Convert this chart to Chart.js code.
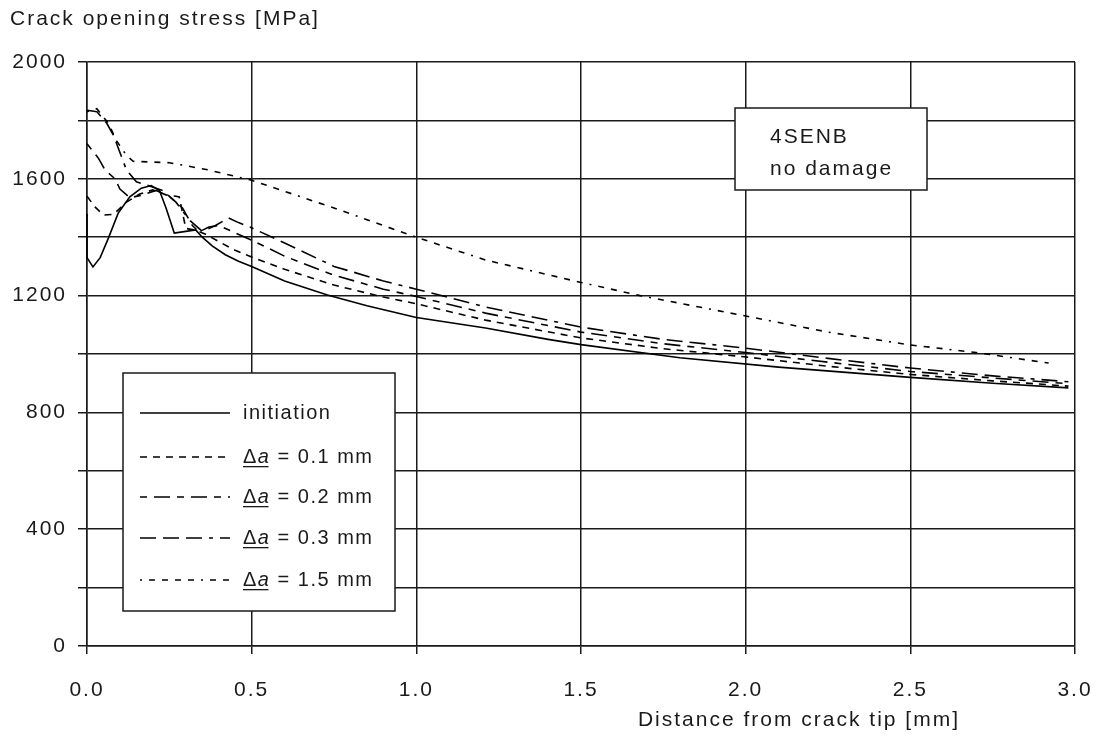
<!DOCTYPE html>
<html>
<head>
<meta charset="utf-8">
<script src="https://cdn.jsdelivr.net/npm/chart.js@4.4.1/dist/chart.umd.min.js"></script>
<style>
  html, body { margin: 0; padding: 0; background: #fff; }
  #wrap { width: 1106px; height: 742px; position: relative; }
</style>
</head>
<body>
<div id="wrap"><canvas id="chart"></canvas></div>
<script>
// distances from crack tip [mm] and stresses [MPa]
const initX = [0, 0, 0.018, 0.04, 0.065, 0.095, 0.13, 0.165, 0.195, 0.22, 0.24, 0.265, 0.3, 0.33, 0.35, 0.38, 0.42, 0.46, 0.5, 0.6, 0.73, 0.85, 1.0, 1.21, 1.4, 1.5, 1.8, 2.1, 2.5, 2.75, 2.98]
const initY = [1480, 1330, 1298, 1330, 1397, 1483, 1538, 1568, 1577, 1560, 1500, 1414, 1420, 1425, 1400, 1370, 1340, 1318, 1300, 1250, 1202, 1165, 1125, 1089, 1050, 1032, 987, 955, 920, 900, 884]

const a01X = [0, 0.025, 0.05, 0.08, 0.12, 0.16, 0.2, 0.24, 0.27, 0.28, 0.3, 0.33, 0.36, 0.4, 0.45, 0.5, 0.6, 0.75, 0.9, 1.0, 1.21, 1.5, 1.75, 2.0, 2.25, 2.5, 2.75, 2.98]
const a01Y = [1540, 1503, 1476, 1478, 1520, 1548, 1562, 1545, 1540, 1538, 1430, 1424, 1410, 1385, 1355, 1332, 1290, 1236, 1195, 1172, 1116, 1055, 1018, 990, 958, 930, 908, 890]

const a02X = [0, 0.035, 0.055, 0.085, 0.1, 0.13, 0.17, 0.21, 0.25, 0.29, 0.32, 0.34, 0.37, 0.4, 0.45, 0.5, 0.6, 0.75, 0.9, 1.0, 1.21, 1.5, 1.75, 2.0, 2.25, 2.5, 2.75, 2.98]
const a02Y = [1720, 1670, 1630, 1600, 1565, 1535, 1545, 1560, 1540, 1500, 1440, 1418, 1435, 1440, 1415, 1390, 1335, 1270, 1222, 1197, 1140, 1075, 1035, 1005, 972, 940, 918, 898]

const a03X = [0, 0.03, 0.06, 0.08, 0.1, 0.12, 0.15, 0.19, 0.23, 0.27, 0.31, 0.35, 0.39, 0.43, 0.46, 0.5, 0.6, 0.75, 0.9, 1.0, 1.21, 1.5, 1.75, 2.0, 2.25, 2.5, 2.75, 2.98]
const a03Y = [1835, 1830, 1790, 1750, 1690, 1630, 1590, 1575, 1560, 1520, 1460, 1420, 1440, 1466, 1450, 1432, 1380, 1300, 1250, 1222, 1161, 1092, 1050, 1020, 985, 952, 925, 905]

const a15X = [0, 0.03, 0.065, 0.09, 0.12, 0.14, 0.25, 0.29, 0.37, 0.47, 0.5, 0.75, 1.0, 1.21, 1.5, 1.68, 2.0, 2.25, 2.5, 2.7, 2.92]
const a15Y = [1830, 1840, 1790, 1730, 1680, 1660, 1655, 1647, 1630, 1603, 1595, 1500, 1400, 1322, 1245, 1200, 1130, 1075, 1031, 1005, 969]

const seriesNames = ['initiation', 'Δa = 0.1 mm', 'Δa = 0.2 mm', 'Δa = 0.3 mm', 'Δa = 1.5 mm']
const seriesDash = [[], [7, 6], [7, 7, 16, 7], [16, 7, 16, 7, 16, 7, 4, 7], [2, 7, 6, 7, 6, 7, 6, 7, 6, 7]]

const xTicks = [0, 0.5, 1.0, 1.5, 2.0, 2.5, 3.0]
const yMin = 0, yMax = 2000, yStep = 200

const FONT = 'Liberation Sans, Arial, sans-serif'
const INK = '#1a1a1a'

function pairs(xs, ys) {
  return xs.map((x, i) => ({ x: x, y: ys[i] }))
}

const allSeries = [[initX, initY], [a01X, a01Y], [a02X, a02Y], [a03X, a03Y], [a15X, a15Y]]

const datasets = allSeries.map((s, i) => ({
  label: seriesNames[i],
  data: pairs(s[0], s[1]),
  borderColor: '#000',
  borderWidth: 1.6,
  borderDash: seriesDash[i],
  pointRadius: 0,
  tension: 0,
  fill: false,
  clip: false,
}))

// letter spacing so the text looks like the old bitmap font
const spacing = {
  id: 'spacing',
  beforeDraw(chart) {
    chart.ctx.letterSpacing = '2px'
  }
}

function drawDeltaLabel(ctx, text, x, y) {
  // "Δa" underlined with italic a, rest normal
  if (text.indexOf('Δa') !== 0) {
    ctx.fillText(text, x, y)
    return
  }
  ctx.font = '20px ' + FONT
  ctx.fillText('Δ', x, y)
  let w1 = ctx.measureText('Δ').width
  ctx.font = 'italic 20px ' + FONT
  ctx.fillText('a', x + w1, y)
  let w2 = ctx.measureText('a').width
  ctx.fillRect(x, y + 9, w1 + w2 - 2, 1.3)
  ctx.font = '20px ' + FONT
  ctx.fillText(text.slice(2), x + w1 + w2, y)
}

const boxes = {
  id: 'boxes',
  afterDraw(chart) {
    const ctx = chart.ctx
    ctx.save()
    ctx.letterSpacing = '2px'
    ctx.fillStyle = INK
    ctx.textBaseline = 'middle'
    ctx.textAlign = 'left'
    ctx.font = '21px ' + FONT
    ctx.fillText('Crack opening stress [MPa]', 10, 19)
    ctx.textAlign = 'right'
    ctx.fillText('Distance from crack tip [mm]', 960, 720)

    // legend
    ctx.fillStyle = '#fff'
    ctx.fillRect(123, 373, 272, 238)
    ctx.strokeStyle = INK
    ctx.lineWidth = 1.5
    ctx.strokeRect(123, 373, 272, 238)
    const rows = [413, 457, 497, 538, 580]
    chart.data.datasets.forEach((ds, i) => {
      ctx.save()
      ctx.strokeStyle = '#000'
      ctx.lineWidth = 1.6
      ctx.setLineDash(ds.borderDash)
      ctx.beginPath()
      ctx.moveTo(140, rows[i])
      ctx.lineTo(230, rows[i])
      ctx.stroke()
      ctx.restore()
      ctx.fillStyle = INK
      ctx.textAlign = 'left'
      ctx.letterSpacing = '1.5px'
      ctx.font = '20px ' + FONT
      drawDeltaLabel(ctx, ds.label, 243, rows[i])
    })

    // annotation box
    ctx.fillStyle = '#fff'
    ctx.fillRect(735, 108, 192, 82)
    ctx.strokeRect(735, 108, 192, 82)
    ctx.fillStyle = INK
    ctx.letterSpacing = '2px'
    ctx.font = '21px ' + FONT
    ctx.fillText('4SENB', 770, 137)
    ctx.fillText('no damage', 770, 169)
    ctx.restore()
  }
}

const config = {
  type: 'line',
  data: { datasets: datasets },
  options: {
    responsive: true,
    maintainAspectRatio: false,
    animation: false,
    layout: { padding: { left: 0, right: 31, top: 62, bottom: 0 } },
    plugins: {
      legend: { display: false },
      tooltip: { enabled: false },
      title: { display: false },
    },
    scales: {
      x: {
        type: 'linear',
        min: xTicks[0],
        max: xTicks[xTicks.length - 1],
        afterFit(s) {
          s.height = 96
          s.paddingLeft = 0
          s.paddingRight = 0
        },
        afterBuildTicks(s) { s.ticks = xTicks.map(v => ({ value: v })) },
        ticks: {
          callback: v => Number(v).toFixed(1),
          font: { family: FONT, size: 21 },
          color: INK,
          padding: 24,
          maxRotation: 0,
          autoSkip: false,
        },
        grid: { color: INK, lineWidth: 1.5, tickLength: 8, tickColor: INK },
        border: { color: INK, width: 1.5 },
      },
      y: {
        min: yMin,
        max: yMax,
        afterFit(s) { s.width = 87 },
        ticks: {
          stepSize: yStep,
          callback: v => (v % 400 === 0 ? String(v) : ''),
          font: { family: FONT, size: 21 },
          color: INK,
          padding: 11,
        },
        grid: { color: INK, lineWidth: 1.5, tickLength: 9, tickColor: INK },
        border: { color: INK, width: 1.5 },
      }
    }
  },
  plugins: [spacing, boxes],
}

const chart = new Chart(document.getElementById('chart'), config)
</script>
</body>
</html>
